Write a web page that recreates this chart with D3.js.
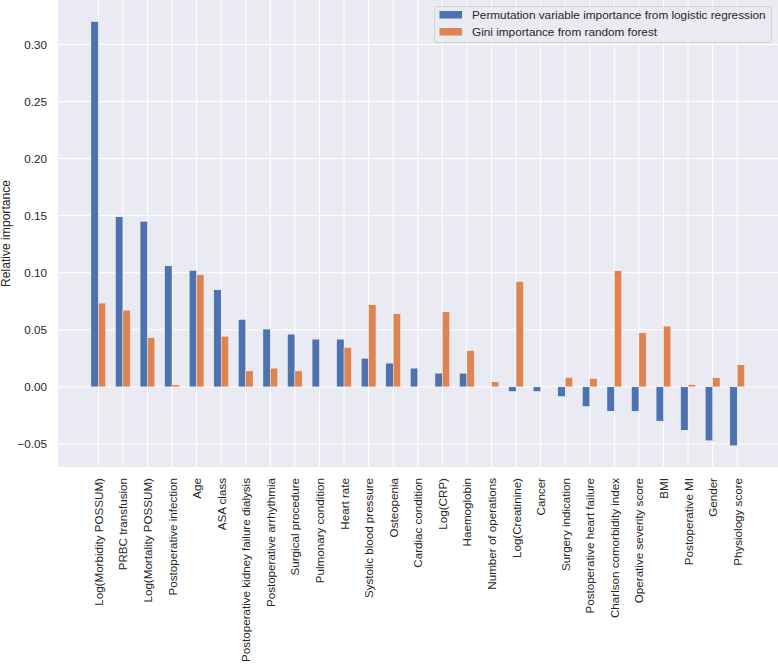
<!DOCTYPE html>
<html><head><meta charset="utf-8">
<script src="https://cdn.jsdelivr.net/npm/d3@7"></script>
<style>body{margin:0;background:#fff}svg{display:block}</style>
</head><body>
<svg id="chart" width="778" height="665"></svg>
<script>
const categories = ["Log(Morbidity POSSUM)","PRBC transfusion","Log(Mortality POSSUM)","Postoperative infection","Age","ASA class","Postoperative kidney failure dialysis","Postoperative arrhythmia","Surgical procedure","Pulmonary condition","Heart rate","Systolic blood pressure","Osteopenia","Cardiac condition","Log(CRP)","Haemoglobin","Number of operations","Log(Creatinine)","Cancer","Surgery indication","Postoperative heart failure","Charlson comorbidity index","Operative severity score","BMI","Postoperative MI","Gender","Physiology score"];
const permutationLR = [0.320,0.149,0.145,0.106,0.102,0.085,0.059,0.0506,0.0462,0.0418,0.0418,0.0251,0.0208,0.0164,0.012,0.012,0.0,-0.0040,-0.0040,-0.0085,-0.0172,-0.0213,-0.0213,-0.0300,-0.0380,-0.0472,-0.0516];
const giniRF = [0.0734,0.0672,0.0430,0.0018,0.0982,0.0444,0.0140,0.0164,0.0140,0.0,0.0345,0.0719,0.0640,0.0003,0.0657,0.0318,0.0044,0.0923,0.0,0.0082,0.0073,0.1017,0.0473,0.0532,0.0020,0.0080,0.0193];
const seriesNames = ["Permutation variable importance from logistic regression","Gini importance from random forest"];
const yTicks = [-0.05,0.00,0.05,0.10,0.15,0.20,0.25,0.30];

const svg = d3.select("#chart");
const font = "'Liberation Sans', Arial, Helvetica, sans-serif";
const plot = {left:58, top:0, right:778, bottom:467};
const x = d3.scaleLinear().domain([-1.64, categories.length - 1 + 1.66]).range([plot.left, plot.right]);
const y = d3.scaleLinear().domain([-0.0702, 0.3389]).range([plot.bottom, plot.top]);
const barW = 0.3;

// measure helper: font size giving a target width for a string
function fitSize(str, target) {
  const t = svg.append("text").attr("font-family",font).attr("font-size",100).text(str);
  const w = t.node().getComputedTextLength();
  t.remove();
  return 100 * target / w;
}
const xFont = fitSize("Postoperative kidney failure dialysis", 184);
const legFont = fitSize(seriesNames[0], 294);
const yFont = fitSize("0.30", 22.7);

svg.append("rect").attr("x",plot.left).attr("y",plot.top)
  .attr("width",plot.right-plot.left).attr("height",plot.bottom-plot.top).attr("fill","#EAEAF2");

// grid
const idx = d3.range(categories.length);
svg.append("g").selectAll("line").data(idx).join("line")
  .attr("x1",d=>x(d)).attr("x2",d=>x(d)).attr("y1",plot.top).attr("y2",plot.bottom)
  .attr("stroke","#fff").attr("stroke-width",1);
svg.append("g").selectAll("line").data(yTicks).join("line")
  .attr("x1",plot.left).attr("x2",plot.right).attr("y1",d=>y(d)).attr("y2",d=>y(d))
  .attr("stroke","#fff").attr("stroke-width",1);

// bars
const colors = ["#4C72B0","#DD8452"];
[permutationLR, giniRF].forEach((vals, s) => {
  svg.append("g").selectAll("rect").data(vals).join("rect")
    .attr("x",(d,i)=> x(i + (s===0 ? -barW : 0)))
    .attr("width", x(barW) - x(0))
    .attr("y", d=> y(Math.max(0,d)))
    .attr("height", d=> Math.abs(y(d)-y(0)))
    .attr("fill", colors[s]).attr("stroke","#fff").attr("stroke-width",0.4);
});

// y axis
const yAxis = d3.axisLeft(y).tickValues(yTicks).tickSize(0).tickPadding(11)
  .tickFormat(d => d3.format(".2f")(d).replace("-","\u2212"));
const gy = svg.append("g").attr("transform",`translate(${plot.left},0)`).call(yAxis);
gy.select(".domain").remove();
gy.selectAll("text").attr("font-family",font).attr("font-size",yFont).attr("fill","#262626");

// x axis
const xAxis = d3.axisBottom(x).tickValues(idx).tickSize(0).tickPadding(0)
  .tickFormat(i => categories[i]);
const gx = svg.append("g").attr("transform",`translate(0,${plot.bottom})`).call(xAxis);
gx.select(".domain").remove();
gx.selectAll("text").attr("font-family",font).attr("font-size",xFont).attr("fill","#262626")
  .attr("transform","rotate(-90)").attr("text-anchor","end")
  .attr("x",-11).attr("y",0).attr("dy","0.35em");

// y label
svg.append("text").attr("transform",`translate(10,${(plot.top+plot.bottom)/2}) rotate(-90)`)
  .attr("text-anchor","middle").attr("font-family",font).attr("font-size",yFont*1.04)
  .attr("fill","#262626").text("Relative importance");

// legend
const lg = svg.append("g");
lg.append("rect").attr("x",434.5).attr("y",6.5).attr("width",337).attr("height",36).attr("rx",2.5)
  .attr("fill","#EAEAF2").attr("fill-opacity",0.8).attr("stroke","#cccccc").attr("stroke-width",0.8);
seriesNames.forEach((n,i)=>{
  lg.append("rect").attr("x",439.5).attr("y",11+i*17).attr("width",22.5).attr("height",7.5).attr("fill",colors[i]);
  lg.append("text").attr("x",472).attr("y",15+i*17).attr("dy","0.35em")
    .attr("font-family",font).attr("font-size",legFont).attr("fill","#262626").text(n);
});
</script>
</body></html>
